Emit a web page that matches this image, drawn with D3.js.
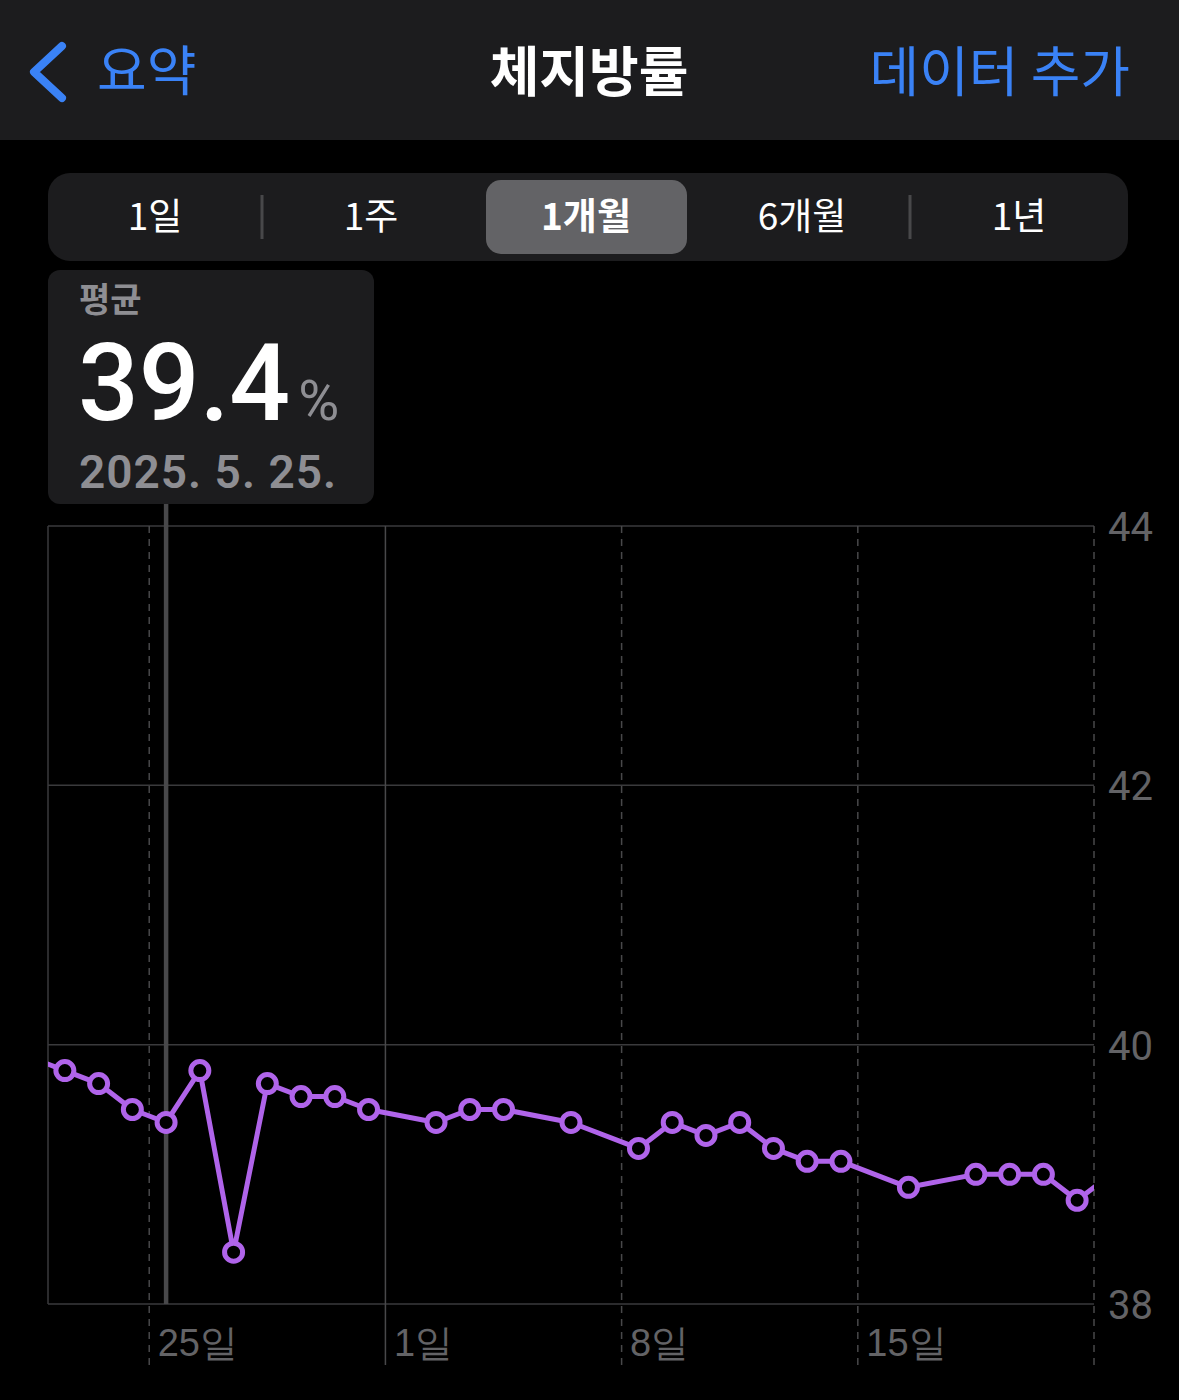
<!DOCTYPE html>
<html><head><meta charset="utf-8">
<script src="https://cdn.jsdelivr.net/npm/d3@7"></script>
<style>
html,body{margin:0;padding:0;background:#000;}
svg{display:block;font-family:"Noto Sans CJK KR","Noto Sans",sans-serif;}
</style></head>
<body>
<svg id="c" width="1179" height="1400"></svg>
<script>
// ---- data ----
const dates = ["2025-05-21","2025-05-22","2025-05-23","2025-05-24","2025-05-25","2025-05-26","2025-05-27","2025-05-28","2025-05-29","2025-05-30","2025-05-31",
  "2025-06-02","2025-06-03","2025-06-04","2025-06-06","2025-06-08","2025-06-09","2025-06-10","2025-06-11","2025-06-12","2025-06-13","2025-06-14",
  "2025-06-16","2025-06-18","2025-06-19","2025-06-20","2025-06-21","2025-06-22"];
const values = [39.9,39.8,39.7,39.5,39.4,39.8,38.4,39.7,39.6,39.6,39.5,
  39.4,39.5,39.5,39.4,39.2,39.4,39.3,39.4,39.2,39.1,39.1,
  38.9,39.0,39.0,39.0,38.8,39.0];
const yTicks = [38,40,42,44];
const xTickDates = ["2025-05-25","2025-06-01","2025-06-08","2025-06-15","2025-06-22"];
const xTickLabels = ["25일","1일","8일","15일",""];
const segments = ["1일","1주","1개월","6개월","1년"];
const selectedSegment = 2;
const navBack = "요약", navTitle = "체지방률", navAction = "데이터 추가";
const tipLabel = "평균", tipValue = "39.4", tipUnit = "%", tipDate = "2025. 5. 25.";
const selectedDate = "2025-05-25";

const parse = d3.timeParse("%Y-%m-%d");
const noon = s => d3.timeHour.offset(parse(s), 12);
const svg = d3.select("#c");
const W = 1179;
const purple = "#b064ea";

// header
svg.append("rect").attr("x",0).attr("y",0).attr("width",W).attr("height",140).attr("fill","#1c1c1e");
svg.append("path").attr("d","M62,46 L34,72 L62,98").attr("fill","none").attr("stroke","#3a82f6")
  .attr("stroke-width",8).attr("stroke-linecap","round").attr("stroke-linejoin","round");
svg.append("text").attr("x",97).attr("y",91).attr("fill","#3a82f6").attr("font-size",54).text(navBack);
svg.append("text").attr("x",589).attr("y",92).attr("text-anchor","middle").attr("fill","#fff")
  .attr("font-size",54).attr("font-weight",700).text(navTitle);
svg.append("text").attr("x",1130).attr("y",92).attr("text-anchor","end").attr("fill","#3a82f6").attr("font-size",54).text(navAction);

// segmented control
svg.append("rect").attr("x",48).attr("y",173).attr("width",1080).attr("height",88).attr("rx",22).attr("fill","#1c1c1e");
svg.append("rect").attr("x",486).attr("y",180).attr("width",201).attr("height",74).attr("rx",15).attr("fill","#636366");
[262,910].forEach(x=>svg.append("line").attr("x1",x).attr("x2",x).attr("y1",195).attr("y2",239).attr("stroke","#48484a").attr("stroke-width",3));
segments.forEach((s,i)=>{
  svg.append("text").attr("x",[155,371,586,802,1019][i]).attr("y",230).attr("text-anchor","middle")
    .attr("fill","#fff").attr("font-size",37).attr("font-weight", i===selectedSegment?600:400).text(s);
});

// chart scales
const x = d3.scaleTime().domain([parse("2025-05-22"), parse("2025-06-22")]).range([48,1094]);
const y = d3.scaleLinear().domain([38,44]).range([1304,526]);

const grid = svg.append("g");
yTicks.forEach(t=>{
  grid.append("line").attr("x1",48).attr("x2",1094).attr("y1",y(t)).attr("y2",y(t)).attr("stroke","#3a3a3c").attr("stroke-width",1.5);
});
grid.append("line").attr("x1",48).attr("x2",48).attr("y1",526).attr("y2",1304).attr("stroke","#3a3a3c").attr("stroke-width",1.5);
xTickDates.forEach((d,i)=>{
  const solid = d==="2025-06-01";
  grid.append("line").attr("x1",x(parse(d))).attr("x2",x(parse(d))).attr("y1",526).attr("y2",1365)
    .attr("stroke","#48484a").attr("stroke-width",1.5)
    .attr("stroke-dasharray", solid?null:"7,6");
});
// y axis labels
const yAxis = d3.axisRight(y).tickValues(yTicks).tickSize(0).tickPadding(0).tickFormat(d3.format("d"));
const ya = svg.append("g").attr("transform","translate(1108,0)").call(yAxis);
ya.select(".domain").remove();
ya.selectAll("text").attr("fill","#636366").attr("font-size",40).attr("font-family","Roboto,'Noto Sans',sans-serif").attr("dy","0.36em");

// x axis labels
const xAxis = d3.axisBottom(x).tickValues(xTickDates.map(parse)).tickSize(0).tickFormat((d,i)=>xTickLabels[i]);
const xa = svg.append("g").attr("transform","translate(0,1330)").call(xAxis);
xa.select(".domain").remove();
xa.selectAll("text").attr("fill","#636366").attr("font-size",38).attr("text-anchor","start").attr("dx",8).attr("dy","0.6em");

// selection line
svg.append("line").attr("x1",x(noon(selectedDate))).attr("x2",x(noon(selectedDate))).attr("y1",504).attr("y2",1304)
  .attr("stroke","#48484a").attr("stroke-width",4.5);

// tooltip box
svg.append("rect").attr("x",48).attr("y",270).attr("width",326).attr("height",234).attr("rx",12).attr("fill","#1c1c1e");
svg.append("text").attr("x",79).attr("y",312).attr("fill","#8e8e93").attr("font-size",34).attr("font-weight",700).text(tipLabel);
const tv = svg.append("text").attr("x",78).attr("y",420).attr("font-family","Roboto,'Noto Sans',sans-serif");
tv.append("tspan").attr("fill","#fff").attr("font-size",107).attr("font-weight",500).text(tipValue);
tv.append("tspan").attr("fill","#8e8e93").attr("font-size",56).attr("dx",8).text(tipUnit);
svg.append("text").attr("x",79).attr("y",488).attr("fill","#8e8e93").attr("font-size",46).attr("font-weight",600)
  .attr("letter-spacing",1).attr("font-family","Roboto,'Noto Sans',sans-serif").text(tipDate);

// line + points (clipped to plot)
svg.append("clipPath").attr("id","clip").append("rect").attr("x",48).attr("y",500).attr("width",1046).attr("height",830);
const pts = dates.map((d,i)=>({d:noon(d), v:values[i]}));
const g = svg.append("g").attr("clip-path","url(#clip)");
g.append("path").datum(pts).attr("d", d3.line().x(p=>x(p.d)).y(p=>y(p.v)))
  .attr("fill","none").attr("stroke",purple).attr("stroke-width",5).attr("stroke-linejoin","round");
g.selectAll("circle").data(pts).join("circle").attr("cx",p=>x(p.d)).attr("cy",p=>y(p.v)).attr("r",9)
  .attr("fill","#000").attr("stroke",purple).attr("stroke-width",5);
</script>
</body></html>
